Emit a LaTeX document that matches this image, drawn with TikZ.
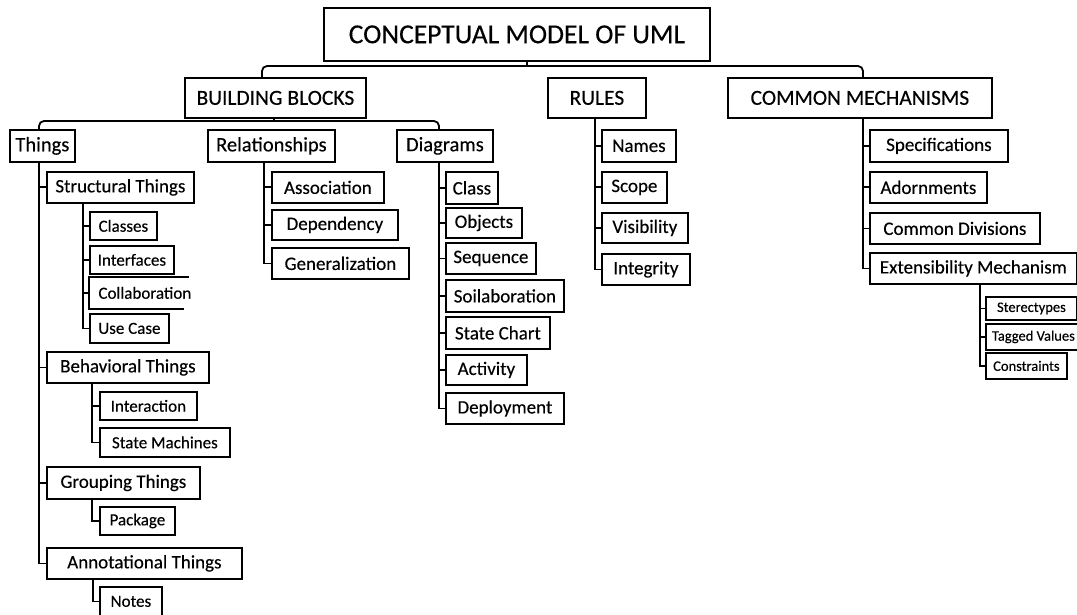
\documentclass[tikz,border=0pt]{standalone}
\usepackage{fontspec}
\setmainfont[FakeBold=0.3]{Carlito}
\begin{document}
\begin{tikzpicture}[x=1pt,y=-1pt,
  box/.style={draw, line width=1.8pt, inner sep=0pt, anchor=north west, align=center},
  fA/.style={font=\fontsize{27.5}{30}\selectfont},
  fB/.style={font=\fontsize{21.5}{24}\selectfont},
  fC/.style={font=\fontsize{20.5}{22}\selectfont},
  fD/.style={font=\fontsize{19}{21}\selectfont},
  fE/.style={font=\fontsize{17}{19}\selectfont},
  fF/.style={font=\fontsize{14.5}{16}\selectfont},
  link/.style={line width=1.8pt},
  rlink/.style={line width=1.8pt, rounded corners=5pt}]
\useasboundingbox[fill=white] (0,0) rectangle (1077,615);
\newcommand{\umlbox}[7][]{\node[box,#1,minimum width=#5pt,minimum height=#6pt] (#2) at (#3,#4) {#7};}

% root and main groups
\umlbox[fA]{top}{323}{7}{386}{53}{CONCEPTUAL MODEL OF UML}
\umlbox[fB]{bb}{184}{77}{181}{40}{BUILDING BLOCKS}
\umlbox[fB]{rules}{547}{77}{98}{40}{RULES}
\umlbox[fB]{cm}{727}{77}{264}{40}{COMMON MECHANISMS}

% building blocks
\umlbox[fC]{things}{9}{129}{65}{32}{Things}
\umlbox[fC]{rel}{207}{129}{127}{32}{Relationships}
\umlbox[fC]{diag}{396}{129}{96}{32}{Diagrams}

% things
\umlbox[fD]{struct}{46}{171}{147}{31}{Structural Things}
\umlbox[fE]{classes}{89}{211}{67}{28}{Classes}
\umlbox[fE]{interfaces}{89}{245}{84}{28}{Interfaces}
\node[box,fE,draw=none,minimum width=110pt,minimum height=30pt] (collab) at (89,277) {Collaboration};
\umlbox[fE]{usecase}{89}{313}{79}{29}{Use Case}
\umlbox[fD]{beh}{46}{351}{162}{31}{Behavioral Things}
\umlbox[fE]{interaction}{99}{391}{97}{28}{Interaction}
\umlbox[fE]{statem}{99}{427}{130}{29}{State Machines}
\umlbox[fD]{group}{46}{466}{153}{32}{Grouping Things}
\umlbox[fE]{package}{99}{506}{75}{28}{Package}
\umlbox[fD]{annot}{46}{547}{195}{31}{Annotational Things}
\umlbox[fE]{notes}{99}{586}{62}{29}{Notes}

% relationships
\umlbox[fD]{assoc}{271}{171}{112}{31}{Association}
\umlbox[fD]{dep}{271}{209}{126}{30}{Dependency}
\umlbox[fD]{gen}{271}{247}{137}{31}{Generalization}

% diagrams
\umlbox[fD]{class}{445}{171}{52}{32}{Class}
\umlbox[fD]{objects}{445}{207}{76}{30}{Objects}
\umlbox[fD]{sequence}{445}{242}{90}{31}{Sequence}
\umlbox[fD]{soil}{445}{279}{118}{32}{Soilaboration}
\umlbox[fD]{statechart}{445}{316}{104}{32}{State Chart}
\umlbox[fD]{activity}{445}{354}{81}{30}{Activity}
\umlbox[fD]{deploy}{445}{392}{118}{31}{Deployment}

% rules
\umlbox[fD]{names}{601}{129}{74}{32}{Names}
\umlbox[fD]{scope}{601}{171}{65}{31}{Scope}
\umlbox[fD]{visib}{601}{212}{86}{30}{Visibility}
\umlbox[fD]{integ}{601}{253}{88}{31}{Integrity}

% common mechanisms
\umlbox[fD]{spec}{869}{129}{138}{32}{Specifications}
\umlbox[fD]{adorn}{869}{171}{117}{31}{Adornments}
\umlbox[fD]{comdiv}{869}{212}{170}{31}{Common Divisions}
\umlbox[fD]{ext}{869}{252}{207}{31}{Extensibility Mechanism}
\umlbox[fF]{ster}{985}{296}{91}{23}{Sterectypes}
\umlbox[fF]{tagged}{985}{323}{95}{26}{Tagged Values}
\umlbox[fF]{constr}{985}{352}{81}{26}{Constraints}

% open frame around Collaboration
\draw[link] ([xshift=-12pt]collab.north east) -- (collab.north west) -- (collab.south west) -- ([xshift=-17pt]collab.south east);

% root connectors
\coordinate (tj) at (527,66);
\draw[link] (top.south -| tj) -- (tj);
\draw[rlink] ([xshift=78pt]bb.north west) |- (tj);
\draw[rlink] ([xshift=136pt]cm.north west) |- (tj);

% building blocks connectors
\coordinate (bj) at (274,121);
\draw[link] (bb.south -| bj) -- (bj);
\draw[rlink] ([xshift=30pt]things.north west) |- (bj);
\draw[rlink] ([xshift=43pt]diag.north west) |- (bj);

% things tree
\foreach \c in {struct,beh,group,annot}
  \draw[link] ([xshift=30pt]things.south west) |- (\c.west);
\foreach \c in {classes,interfaces,collab,usecase}
  \draw[link] ([xshift=37pt]struct.south west) |- (\c.west);
\foreach \c in {interaction,statem}
  \draw[link] ([xshift=46pt]beh.south west) |- (\c.west);
\draw[link] ([xshift=46pt]group.south west) |- (package.west);
\draw[link] ([xshift=47pt]annot.south west) |- (notes.west);

% relationships tree
\foreach \c in {assoc,dep,gen}
  \draw[link] ([xshift=57pt]rel.south west) |- (\c.west);

% diagrams tree
\foreach \c in {class,objects,sequence,soil,statechart,activity,deploy}
  \draw[link] ([xshift=43pt]diag.south west) |- (\c.west);

% rules tree
\foreach \c in {names,scope,visib,integ}
  \draw[link] ([xshift=48pt]rules.south west) |- (\c.west);

% common mechanisms tree
\foreach \c in {spec,adorn,comdiv,ext}
  \draw[link] ([xshift=136pt]cm.south west) |- (\c.west);
\foreach \c in {ster,tagged,constr}
  \draw[link] ([xshift=111pt]ext.south west) |- (\c.west);
\end{tikzpicture}
\end{document}
